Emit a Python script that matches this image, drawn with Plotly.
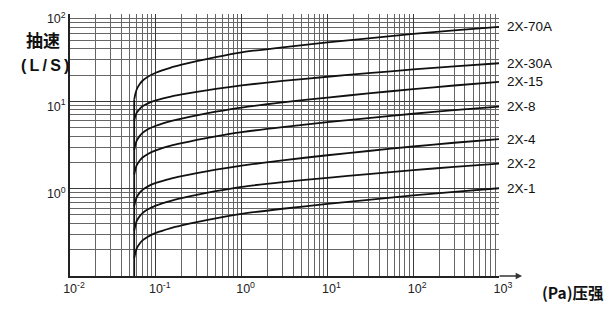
import math
import plotly.graph_objects as go

# ---------------- data ----------------
pressure = [0.056, 0.058, 0.06, 0.065, 0.07, 0.08, 0.1, 0.15, 0.2, 0.3, 0.5,
            1, 3, 10, 30, 100, 300, 1000]

s_70a = [10.45, 12.29, 13.75, 15.77, 17.20, 19.01, 21.27, 24.39, 26.28, 28.86,
         32.08, 36.34, 41.58, 47.27, 52.66, 59.08, 64.94, 71.35]
s_30a = [6.06, 6.83, 7.42, 8.21, 8.76, 9.43, 10.24, 11.34, 11.98, 12.84,
         13.89, 15.23, 17.12, 19.12, 21.00, 23.19, 25.16, 27.31]
s_15 = [2.78, 3.22, 3.55, 4.02, 4.35, 4.75, 5.25, 5.94, 6.35, 6.91, 7.60,
        8.49, 9.72, 11.05, 12.31, 13.80, 15.18, 16.68]
s_8 = [1.453, 1.682, 1.855, 2.100, 2.273, 2.482, 2.743, 3.104, 3.318, 3.610,
       3.971, 4.436, 5.079, 5.774, 6.432, 7.211, 7.932, 8.715]
s_4 = [0.633, 0.727, 0.800, 0.900, 0.969, 1.056, 1.162, 1.306, 1.392, 1.508,
       1.651, 1.836, 2.112, 2.413, 2.699, 3.041, 3.354, 3.700]
s_2 = [0.331, 0.3845, 0.4267, 0.4844, 0.5254, 0.5761, 0.6392, 0.7258, 0.778,
       0.8486, 0.9361, 1.0505, 1.187, 1.332, 1.469, 1.630, 1.776, 1.933]
s_1 = [0.160, 0.1862, 0.2069, 0.2352, 0.2553, 0.2803, 0.3113, 0.354, 0.3798,
       0.4145, 0.4578, 0.5144, 0.5888, 0.6692, 0.7457, 0.8363, 0.9194, 1.0104]

series_names = ["2X-70A", "2X-30A", "2X-15", "2X-8", "2X-4", "2X-2", "2X-1"]
series_values = [s_70a, s_30a, s_15, s_8, s_4, s_2, s_1]

ultimate_pressure = 0.056
y_min = 0.1

x_tick_vals = [0.01, 0.1, 1, 10, 100, 1000]
x_tick_text = ["10<sup>-2</sup>", "10<sup>-1</sup>", "10<sup>0</sup>",
               "10<sup>1</sup>", "10<sup>2</sup>", "10<sup>3</sup>"]
y_tick_vals = [1, 10, 100]
y_tick_text = ["10<sup>0</sup>", "10<sup>1</sup>", "10<sup>2</sup>"]

# ---------------- figure ----------------
fig = go.Figure()

LINE = "#111111"

# vertical start line (ultimate pressure)
fig.add_trace(go.Scatter(
    x=[ultimate_pressure, ultimate_pressure], y=[y_min, s_70a[0]],
    mode="lines", line=dict(color=LINE, width=1.8), showlegend=False,
    hoverinfo="skip"))

for name, vals in zip(series_names, series_values):
    fig.add_trace(go.Scatter(
        x=pressure, y=vals, mode="lines", name=name,
        line=dict(color=LINE, width=1.8, shape="spline", smoothing=0.6),
        showlegend=False))

minor_x = [k * 10 ** n for n in range(-2, 3) for k in range(2, 10)]
minor_y = [k * 10 ** n for n in range(-1, 2) for k in range(2, 10)]

FONT = "Liberation Sans, Arial, sans-serif"
CJK = "Noto Sans CJK SC, sans-serif"

fig.update_xaxes(
    type="log", range=[-2, 3], tickmode="array",
    tickvals=x_tick_vals, ticktext=x_tick_text,
    showgrid=True, gridcolor="#3a3a3a", gridwidth=1,
    minor=dict(tickmode="array", tickvals=minor_x, showgrid=True,
               gridcolor="#666666", gridwidth=1, ticks=""),
    showline=True, linecolor="#222222", linewidth=1.6,
    ticks="", ticklabelshift=4,
    tickfont=dict(family=FONT, size=12.5, color="#222222"),
    zeroline=False)

fig.update_yaxes(
    type="log", range=[-1, 2], tickmode="array",
    tickvals=y_tick_vals, ticktext=y_tick_text,
    showgrid=True, gridcolor="#3a3a3a", gridwidth=1,
    minor=dict(tickmode="array", tickvals=minor_y, showgrid=True,
               gridcolor="#666666", gridwidth=1, ticks=""),
    showline=True, linecolor="#222222", linewidth=1.6,
    ticks="", ticklabelshift=5,
    tickfont=dict(family=FONT, size=12.5, color="#222222"),
    zeroline=False)

PW, PH = 616 - 70 - 117, 316 - 10 - 40


def px_to_paper(px, py):
    return (px - 70) / PW, (316 - 40 - py) / PH


annotations = []
for name, vals in zip(series_names, series_values):
    annotations.append(dict(
        x=1, xref="paper", y=math.log10(vals[-1]), yref="y",
        text=name, showarrow=False, xanchor="left", yanchor="middle",
        xshift=6, font=dict(family=FONT, size=13.5, color="#111111")))

# x-axis arrow extension
annotations.append(dict(
    x=(522 - 70) / PW, y=0, xref="paper", yref="paper", ax=-24, ay=0,
    axref="pixel", ayref="pixel", text="", showarrow=True,
    arrowhead=2, arrowsize=0.9, arrowwidth=1.4, arrowcolor="#333333"))

# axis titles
tx, ty = px_to_paper(43, 36)
annotations.append(dict(
    x=tx, y=ty, xref="paper", yref="paper", text="<b>抽速</b>",
    showarrow=False, font=dict(family=CJK, size=17, color="#111111"),
    xanchor="center", yanchor="middle"))
tx, ty = px_to_paper(45, 62)
annotations.append(dict(
    x=tx, y=ty, xref="paper", yref="paper",
    text="<b>(\u2009L\u2009/\u2009S\u2009)</b>",
    showarrow=False, font=dict(family=FONT, size=16, color="#111111"),
    xanchor="center", yanchor="middle"))
tx, ty = px_to_paper(573, 292)
annotations.append(dict(
    x=tx, y=ty, xref="paper", yref="paper", text="<b>(Pa)压强</b>",
    showarrow=False, font=dict(family=CJK, size=15.5, color="#111111"),
    xanchor="center", yanchor="middle"))

fig.update_layout(
    width=616, height=316,
    margin=dict(l=70, r=117, t=10, b=40),
    paper_bgcolor="white", plot_bgcolor="white",
    showlegend=False,
    annotations=annotations,
)

fig.write_html("out.html")
